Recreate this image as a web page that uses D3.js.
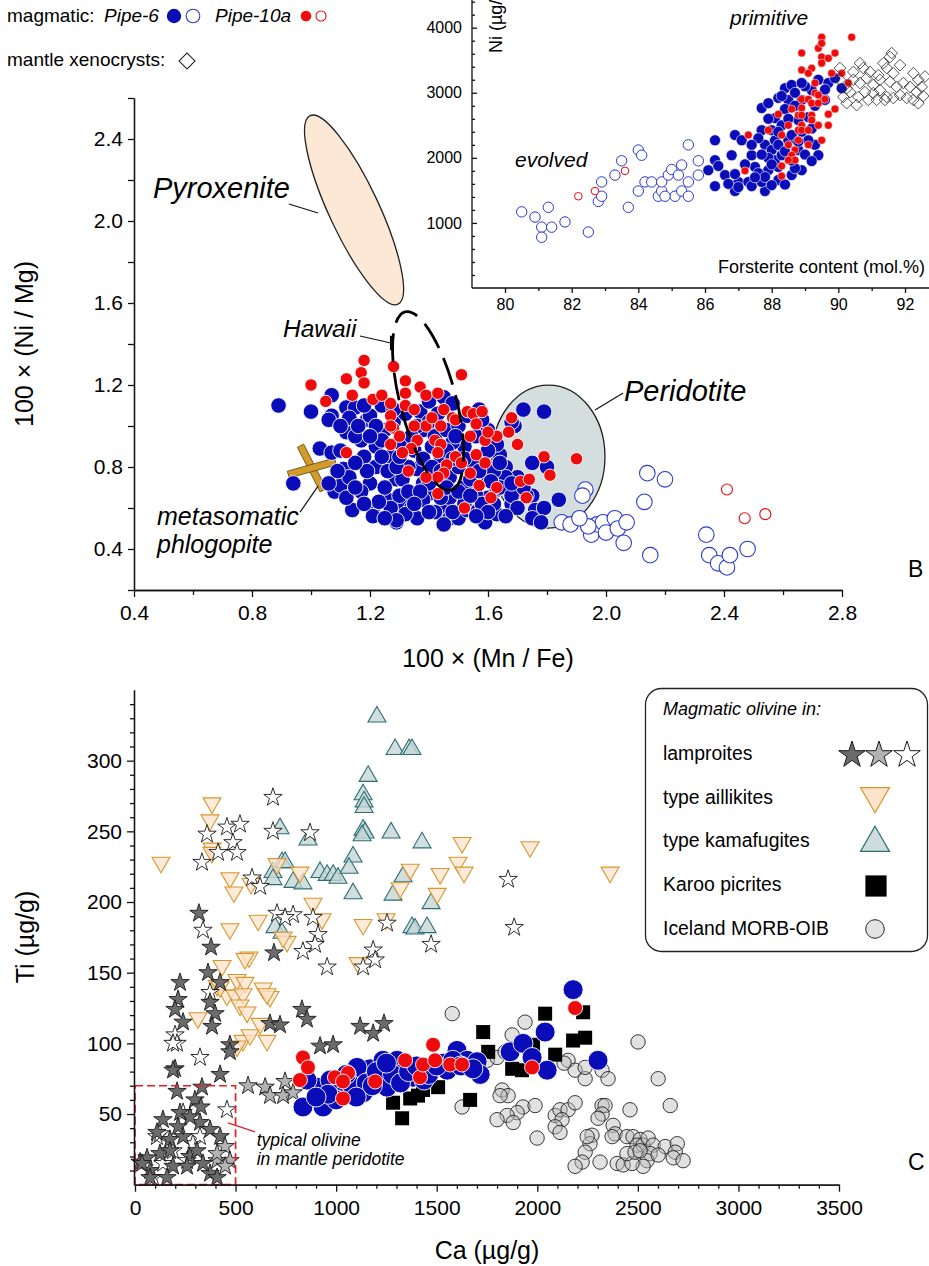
<!DOCTYPE html>
<html>
<head>
<meta charset="utf-8">
<script src="https://cdn.jsdelivr.net/npm/d3@7"></script>
<style>
  body { margin: 0; background: #fff; }
  svg { display: block; font-family: "Liberation Sans", Arial, sans-serif; }
</style>
</head>
<body>
<svg id="fig" width="929" height="1266"></svg>
<script>
// ---------- data: panel B (100*Ni/Mg vs 100*Mn/Fe) ----------
var bPipe6 = [[0.89,1.10],[1.00,1.07],[1.07,1.15],[1.07,1.05],[1.06,1.03],[1.12,1.09],[1.15,1.09],[1.12,0.97],[1.03,0.89],[1.07,0.87],
  [0.94,0.72],[1.11,0.79],[1.08,0.68],[1.10,0.71],[1.14,0.59],[1.21,0.60],[1.29,0.53],[1.17,0.93],[1.19,1.03],[1.22,0.80],
  [1.20,0.72],[1.26,0.64],[1.29,0.74],[1.31,0.62],[1.37,1.07],[1.40,1.12],[1.45,1.14],[1.48,1.11],[1.38,0.98],[1.36,0.79],
  [1.40,0.67],[1.45,0.59],[1.47,0.55],[1.50,0.55],[1.53,0.59],[1.56,0.58],[1.59,0.53],[1.63,0.57],[1.60,0.65],[1.63,0.69],
  [1.66,0.80],[1.64,0.86],[1.62,0.93],[1.60,0.98],[1.58,1.03],[1.57,1.08],[1.69,0.61],[1.70,0.75],[1.72,1.08],[1.79,1.07],
  [1.69,1.00],[1.75,0.82],[1.80,0.80],[1.75,0.66],[1.84,0.64],[1.76,0.59],[1.79,0.60],[1.75,0.55],[1.78,0.53],[1.55,0.72],
  [1.52,0.70],[1.47,0.65],[1.66,0.75],[1.68,1.02],[1.63,0.91],[1.73,0.66],[1.68,0.62],[1.15,0.95],[1.18,0.85],[1.22,0.90],
  [1.25,0.98],[1.27,0.85],[1.30,0.92],[1.33,0.80],[1.35,0.88],[1.38,0.72],[1.42,0.95],[1.44,0.85],[1.47,0.75],[1.50,0.80],
  [1.52,0.90],[1.55,0.82],[1.58,0.75],[1.25,0.70],[1.30,0.66],[1.34,0.60],[1.38,0.64],[1.42,0.58],[1.17,0.68],[1.13,0.75],
  [1.10,0.88],[1.20,1.05],[1.24,1.10],[1.28,1.02],[1.32,1.06],[1.36,1.00],[1.40,1.02],[1.43,1.06],[1.46,0.98],[1.50,1.00],
  [1.53,1.05],[1.56,0.95],[1.60,0.88],[1.62,0.78],[1.64,0.70],[1.68,0.66],[1.72,0.70],[1.70,0.60],[1.66,0.56],[1.62,0.62],
  [1.56,0.66],[1.52,0.62],[1.48,0.58],[1.44,0.65],[1.40,0.72],[1.36,0.55],[1.32,0.57],[1.27,0.60],[1.23,0.63],[1.19,0.78],
  [1.15,0.82],[1.12,0.65],[1.09,0.78],[1.06,0.72],[1.26,0.78],[1.31,0.74],[1.46,0.70],[1.50,0.68],[1.54,0.74],[1.58,0.62],
  [1.60,0.58],[1.21,0.56],[1.38,0.84],[1.34,0.95],[1.29,0.54],[1.45,0.52],[1.56,0.56],[1.28,1.08],[1.22,1.00],[1.18,1.10],
  [1.13,1.04],[1.10,1.00],[1.41,0.90],[1.48,0.92],[1.64,0.82],[1.68,0.72],[1.24,0.93],[1.29,0.80],[1.33,0.68],[1.37,0.68],
  [1.41,0.80],[1.46,0.88],[1.49,0.95],[1.52,0.84],[1.57,0.78],[1.61,0.73],[1.35,0.62],[1.25,0.55],[1.18,0.62],[1.15,0.70],
  [1.24,0.85],[1.40,0.58],[1.54,0.66],[1.20,0.95],[1.16,1.00],[1.30,0.85],[1.44,0.78],[1.48,0.84]];
var bPipe10 = [[1.18,1.32],[1.12,1.23],[1.17,1.26],[1.18,1.21],[1.00,1.20],[1.05,1.12],[1.14,1.15],[1.21,1.13],[1.24,1.15],[1.28,1.29],
  [1.32,1.22],[1.32,1.16],[1.32,1.10],[1.27,1.11],[1.27,1.05],[1.28,0.99],[1.27,1.00],[1.37,1.19],[1.39,1.15],[1.43,1.16],
  [1.51,1.25],[1.45,1.08],[1.48,1.04],[1.44,1.00],[1.39,1.00],[1.35,1.00],[1.36,0.93],[1.34,0.89],[1.31,0.87],[1.27,0.91],
  [1.12,0.87],[1.33,0.78],[1.42,0.93],[1.44,0.91],[1.43,0.87],[1.46,0.81],[1.45,0.77],[1.43,0.75],[1.39,0.75],[1.49,0.85],
  [1.51,0.82],[1.54,0.77],[1.57,0.71],[1.52,0.60],[1.43,0.67],[1.53,1.07],[1.55,1.06],[1.58,1.07],[1.56,1.01],[1.54,0.95],
  [1.59,0.93],[1.63,0.95],[1.60,0.97],[1.56,0.86],[1.59,0.82],[1.63,0.70],[1.61,0.65],[1.68,1.04],[1.67,0.97],[1.70,0.91],
  [1.79,0.85],[1.81,0.76],[1.90,0.84],[1.71,0.73],[1.74,0.74],[1.73,0.65],[1.49,1.03],[1.41,1.04],[1.35,1.08],[1.30,0.95]];
var bPipe6Open = [[2.14,0.77],[2.20,0.74],[2.13,0.63],[1.93,0.69],[1.92,0.66],[1.85,0.53],[1.88,0.52],[1.95,0.47],[1.97,0.52],[1.99,0.53],
  [2.00,0.48],[2.03,0.55],[2.04,0.50],[2.07,0.53],[2.06,0.43],[2.15,0.37],[2.34,0.47],[2.35,0.37],[2.38,0.33],[2.41,0.31],
  [2.42,0.37],[2.48,0.40],[1.94,0.51],[1.91,0.55]];
var bPipe10Open = [[2.41,0.69],[2.47,0.55],[2.54,0.57]];
var bTicksMajorX = [0.4,0.8,1.2,1.6,2.0,2.4,2.8];
var bTicksMinorX = [0.6,1.0,1.4,1.8,2.2,2.6];
var bTicksMajorY = [0.4,0.8,1.2,1.6,2.0,2.4];
var bTicksMinorY = [0.2,0.6,1.0,1.4,1.8,2.2,2.6];

// ---------- data: inset (Ni vs Fo) ----------
var iPipe6Open = [[80.5,1170],[80.9,1090],[81.1,935],[81.1,780],[81.3,1240],[81.4,935],[81.8,1015],[82.5,860],[82.8,1330],[82.9,1630],
  [82.9,1410],[83.3,1735],[83.5,1955],[83.7,1240],[84.0,2120],[84.1,2040],[84.0,1490],[84.2,1630],[84.4,1630],[84.6,1410],
  [84.7,1490],[84.7,1630],[84.9,1735],[85.0,1820],[85.1,1410],[85.2,1735],[85.3,1890],[85.3,1490],[85.5,1630],[85.5,1410],
  [85.5,2200],[85.8,1955],[85.8,1735],[84.8,1410]];
var iPipe10Open = [[82.2,1410],[82.7,1490],[83.6,1800]];
var iPipe6 = [[86.3,2270],[86.9,2350],[86.3,1965],[86.1,1810],[86.4,1875],[86.6,1735],[86.3,1565],[86.8,2040],[87.1,2270],[86.9,1490],
  [87.0,1630],[87.4,2040],[87.3,1630],[87.4,1565],[87.7,2765],[87.7,2425],[87.9,2840],[87.8,2200],[88.0,2120],[88.1,2270],
  [87.8,1490],[87.7,1630],[87.9,1810],[88.2,1860],[88.1,1965],[88.1,2610],[88.2,2920],[88.4,3070],[88.6,3120],[88.5,2890],
  [88.8,2580],[88.9,2890],[89.2,3040],[89.4,3200],[89.7,3150],[90.1,3070],[89.9,3225],[89.6,2890],[89.3,2200],[89.4,2040],
  [88.9,1810],[88.6,1735],[88.3,2040],[88.5,2270],[89.1,2270],[89.1,2625],[88.8,2120],[88.3,2500],[88.0,2425],[88.7,1840],
  [87.5,1860],[87.6,1765],[87.8,1705],[88.2,1660],[88.4,2750],[88.9,2400],[89.2,2450],[88.6,1960],[87.9,2000],[88.4,1590],
  [87.6,2300],[87.9,2600],[88.2,2200],[88.5,2600],[88.7,2800],[89.0,3100],[88.0,1900],[87.7,2050],[87.2,1900],[86.9,1750],
  [88.3,2950],[89.3,2800],[89.0,2050],[88.6,2350],[87.4,2200],[88.9,3150],[89.6,3050],[86.7,1600],[87.0,1550],[88.7,3000],
  [88.2,2400],[88.8,2250],[87.5,1700],[88.0,1580],[89.2,1950],[88.4,2100]];
var iPipe10 = [[89.5,3855],[90.4,3855],[88.9,3610],[89.4,3685],[89.5,3760],[89.5,3550],[89.5,3455],[89.7,3530],[89.9,3610],[88.9,3350],
  [89.2,3375],[89.1,3300],[89.3,3150],[89.8,3300],[90.1,3300],[90.3,3150],[89.3,2995],[88.9,2900],[89.1,2900],[89.4,2965],
  [89.6,2900],[88.9,2765],[89.2,2840],[89.4,2840],[89.9,2750],[88.6,2750],[88.8,2655],[88.9,2655],[89.2,2655],[89.7,2670],
  [88.2,2670],[89.2,2580],[88.9,2500],[89.4,2500],[89.7,2500],[88.8,2425],[88.9,2425],[89.1,2425],[88.5,2500],[87.9,2425],
  [88.3,2350],[88.8,2270],[89.5,2270],[88.5,2200],[89.1,2200],[88.7,2120],[88.6,2040],[88.7,1965],[88.5,1965],[88.3,1875],
  [88.3,1720],[87.2,1800],[87.3,2350]];
var iXeno = [[91.6,3610],[90.65,3455],[90.05,3380],[90.45,3320],[90.75,3380],[90.95,3320],[91.35,3455],[91.45,3380],[91.65,3300],[92.25,3300],
  [92.4,3200],[92.5,3090],[90.05,3200],[90.25,3070],[90.45,3200],[90.65,3150],[90.85,3225],[91.05,3120],[91.25,3200],[91.55,3170],
  [91.75,3090],[91.95,3150],[92.15,3090],[92.35,3010],[90.15,2935],[90.35,3010],[90.6,2935],[90.8,3010],[91.05,2995],[91.25,3040],
  [91.45,2935],[91.65,2920],[91.85,2965],[92.05,2920],[92.25,2890],[92.4,2840],[90.25,2840],[90.55,2810],[90.9,2890],[91.15,2890],
  [91.4,2890],[91.55,3550],[91.85,3425],[91.2,3270],[92.55,2950],[92.6,3250]];
var iTicksMajorX = [80,82,84,86,88,90,92];
var iTicksMinorX = [81,83,85,87,89,91];
var iTicksMajorY = [1000,2000,3000,4000];
var iTicksMinorY = [200,400,600,800,1200,1400,1600,1800,2200,2400,2600,2800,3200,3400,3600,3800,4200,4400];

// ---------- data: panel C (Ti vs Ca) ----------
var cKamafugite = [[1203,331],[1293,308],[1363,308],[1377,308],[1159,289],[1134,276],[1139,271],[1139,267],[1134,251],[1144,249],
  [1129,247],[1273,249],[1427,242],[721,252],[860,244],[731,228],[746,228],[686,221],[686,216],[786,214],[835,213],[920,221],
  [955,219],[985,219],[1009,217],[1084,232],[1064,224],[1084,206],[1333,218],[1283,205],[1472,199],[1377,182],[1392,181],
  [1452,182],[696,182],[731,178]];
var cAillikite = [[129,228],[383,270],[373,258],[383,238],[383,235],[472,217],[492,207],[577,213],[706,227],[820,221],[885,199],
  [930,188],[612,187],[472,181],[1134,184],[1248,188],[1368,223],[1318,210],[1517,220],[1502,206],[1606,228],[1636,221],
  [1626,242],[1964,239],[2362,221],[756,172],[736,175],[567,161],[547,160],[433,155],[1109,157],[507,145],[547,143],[637,139],
  [408,141],[457,134],[497,134],[671,133],[423,140],[537,135],[656,135],[522,127],[557,122],[313,118],[622,114],[656,102],
  [537,102],[572,106],[507,98]];
var cLampDark = [[318,192],[378,168],[691,164],[224,143],[363,150],[423,143],[214,131],[199,124],[239,115],[373,129],[398,121],
  [383,112],[199,82],[423,78],[472,99],[472,94],[830,124],[855,117],[671,114],[721,113],[1119,112],[1184,107],[1238,114],
  [920,98],[985,99],[333,69],[209,66],[139,46],[224,51],[298,60],[323,44],[373,39],[423,34],[174,32],[239,34],[124,22],
  [25,16],[75,10],[189,13],[273,20],[308,24],[373,8],[408,5],[75,5],[159,5],[328,55],[273,48],[214,41],[109,37],[174,24],
  [60,19],[259,13],[338,15],[189,81],[35,15]];
var cLampGrey = [[562,70],[647,69],[671,63],[736,63],[786,65],[746,73],[448,27],[472,17],[408,17],[408,22],[448,13]];
var cLampWhite = [[686,274],[358,248],[457,253],[522,255],[686,250],[870,249],[487,242],[333,228],[413,235],[507,235],[582,217],
  [622,211],[1855,216],[1885,182],[1472,170],[338,180],[706,192],[786,191],[746,189],[885,189],[910,177],[895,170],[835,165],
  [955,154],[1134,154],[1184,166],[1253,185],[1194,159],[373,136],[457,53],[199,106],[209,100],[323,90],[239,51],[109,34],
  [189,24],[288,29],[259,17],[139,15],[323,34],[124,36],[90,5],[189,100]];
var cKaroo = [[1283,58],[1328,47],[1368,61],[1432,67],[1507,69],[1666,60],[1731,108],[1756,94],[1875,82],[2039,121],[2089,92],
  [2178,102],[2228,122],[2238,104],[1979,99],[1924,81],[1407,63]];
var cIceland = [[1939,115],[1875,106],[2501,101],[2153,88],[2188,81],[2238,75],[2238,83],[2322,81],[2352,75],[2601,75],[2661,56],
  [2461,53],[1825,67],[1855,63],[1815,63],[1929,55],[1989,56],[1900,51],[1850,49],[1800,46],[1880,44],[1999,33],[2089,49],
  [2113,53],[2153,53],[2188,58],[2123,46],[2089,41],[2113,37],[2322,56],[2337,56],[2322,50],[2302,47],[2377,42],[2387,36],
  [2372,34],[2272,35],[2262,29],[2238,23],[2223,16],[2188,13],[2312,16],[2397,15],[2427,14],[2446,34],[2476,34],[2511,32],
  [2496,28],[2526,28],[2551,33],[2576,28],[2561,22],[2546,17],[2526,13],[2471,15],[2446,22],[2486,23],[2511,24],[2636,27],
  [2696,29],[2686,23],[2676,19],[2725,17],[2601,21],[2248,34],[1751,88],[1800,90],[1577,121],[1626,55],[1840,94],[2133,86]];
var cPipe6 = [[835,55],[935,55],[905,69],[855,74],[970,74],[1004,65],[1054,68],[1134,65],[1119,76],[1169,82],[1218,76],[1253,69],
  [1268,83],[1303,88],[1333,79],[1382,76],[1233,88],[1452,82],[1532,86],[1601,95],[1651,88],[1701,87],[1716,78],[1552,81],
  [1865,94],[1929,100],[1974,90],[2049,81],[2039,108],[2178,138],[2302,88],[1104,83],[1437,74],[1080,70],[1150,72],[1200,80],
  [1280,78],[1320,72],[1360,80],[1400,84],[1460,78],[1500,84],[1580,88],[1620,84],[1680,82],[1250,86],[1180,70],[1100,62],
  [1000,60],[960,64],[900,62],[1050,78]];
var cPipe10 = [[835,90],[860,83],[820,74],[994,76],[1059,79],[1034,73],[1034,61],[1194,73],[1343,88],[1417,76],[1432,85],
  [1482,99],[1492,88],[1567,85],[1626,85],[2188,125],[1974,83]];
var cTicksMajorX = [0,500,1000,1500,2000,2500,3000,3500];
var cTicksMinorX = d3.range(0, 3501, 100);
var cTicksMajorY = [50,100,150,200,250,300];
var cTicksMinorY = d3.range(0, 351, 10);
var cLegend = ["lamproites", "type aillikites", "type kamafugites", "Karoo picrites", "Iceland MORB-OIB"];

// ---------- colours ----------
var BLUE = "#0a0cb8", RED = "#ee0b0b", BLUE_OPEN = "#2a3ad0";
var FONT = "'Liberation Sans', Arial, sans-serif";

var svg = d3.select("#fig");

// ---------- scales ----------
var xB = d3.scaleLinear().domain([0.4, 2.8]).range([134, 842]);
var yB = d3.scaleLinear().domain([0.2, 2.6]).range([590, 98]);
var xI = d3.scaleLinear().domain([80, 92]).range([505, 905]);
var yI = d3.scaleLinear().domain([0, 4000]).range([288, 27.7]);
var xC = d3.scaleLinear().domain([0, 3500]).range([135, 839]);
var yC = d3.scaleLinear().domain([0, 350]).range([1184.7, 690]);

function drawAxis(orient, scale, major, minor, len, pos, fmt, fs, pad) {
  var mk = orient == "left" ? d3.axisLeft : d3.axisBottom;
  var t = orient == "left" ? "translate(" + pos + ",0)" : "translate(0," + pos + ")";
  var gm = svg.append("g").attr("transform", t)
    .call(mk(scale).tickValues(minor).tickSize(len[1]).tickSizeOuter(0).tickFormat(""));
  var g = svg.append("g").attr("transform", t)
    .call(mk(scale).tickValues(major).tickSize(len[0]).tickSizeOuter(0).tickPadding(pad).tickFormat(fmt));
  [gm, g].forEach(function(a) {
    a.selectAll("line,path").attr("stroke", "#111").attr("stroke-width", 1.3);
  });
  g.selectAll("text").attr("font-size", fs).attr("font-family", FONT).attr("fill", "#000");
  return g;
}

function text(x, y, s, size, opts) {
  opts = opts || {};
  var t = svg.append("text").attr("x", x).attr("y", y).text(s)
    .attr("font-size", size).attr("fill", "#000")
    .attr("font-style", opts.italic ? "italic" : "normal")
    .attr("text-anchor", opts.anchor || "start");
  if (opts.rotate) t.attr("transform", "rotate(-90," + x + "," + y + ")");
  return t;
}

function line(x1, y1, x2, y2, col, w) {
  svg.append("line").attr("x1", x1).attr("y1", y1).attr("x2", x2).attr("y2", y2)
    .attr("stroke", col || "#111").attr("stroke-width", w || 1.2);
}

// ================= PANEL B =================
var bRegions = [
  { cx: 1.146, cy: 2.054, rx: 104, ry: 25, rot: 65, fill: "#fde8d6" },
  { cx: 1.805, cy: 0.851, rx: 56.5, ry: 71.5, rot: 0, fill: "#d5dede" }
];
svg.append("g").selectAll("ellipse").data(bRegions).join("ellipse")
  .attr("transform", d => "translate(" + xB(d.cx) + "," + yB(d.cy) + ") rotate(" + d.rot + ")")
  .attr("rx", d => d.rx).attr("ry", d => d.ry)
  .attr("fill", d => d.fill).attr("stroke", "#222").attr("stroke-width", 1.3);

// phlogopite cross
var phl = { x: 1.003, y: 0.795 };
var gx = svg.append("g").attr("transform", "translate(" + xB(phl.x) + "," + yB(phl.y) + ")");
gx.append("rect").attr("x", -25).attr("y", -3.5).attr("width", 50).attr("height", 7)
  .attr("transform", "rotate(63)").attr("fill", "#d39a2c").attr("stroke", "#6a4a12").attr("stroke-width", 0.8);
gx.append("rect").attr("x", -24.5).attr("y", -3.5).attr("width", 49).attr("height", 7)
  .attr("transform", "rotate(-15.5)").attr("fill", "#d39a2c").attr("stroke", "#6a4a12").attr("stroke-width", 0.8);

svg.append("g").selectAll("circle").data(bPipe6).join("circle")
  .attr("cx", d => xB(d[0])).attr("cy", d => yB(d[1])).attr("r", 7.8)
  .attr("fill", BLUE).attr("stroke", "#fff").attr("stroke-width", 0.9);
svg.append("g").selectAll("circle").data(bPipe10).join("circle")
  .attr("cx", d => xB(d[0])).attr("cy", d => yB(d[1])).attr("r", 6.2)
  .attr("fill", RED).attr("stroke", "#fff").attr("stroke-width", 0.9);
svg.append("g").selectAll("circle").data(bPipe6Open).join("circle")
  .attr("cx", d => xB(d[0])).attr("cy", d => yB(d[1])).attr("r", 7.8)
  .attr("fill", "#fff").attr("stroke", BLUE_OPEN).attr("stroke-width", 1.1);
svg.append("g").selectAll("circle").data(bPipe10Open).join("circle")
  .attr("cx", d => xB(d[0])).attr("cy", d => yB(d[1])).attr("r", 5.5)
  .attr("fill", "#fff").attr("stroke", RED).attr("stroke-width", 1.1);

// Hawaii dashed field
var haw = { cx: 1.397, cy: 1.122, rx: 92, ry: 28, rot: 75.5 };
svg.append("ellipse")
  .attr("transform", "translate(" + xB(haw.cx) + "," + yB(haw.cy) + ") rotate(" + haw.rot + ")")
  .attr("rx", haw.rx).attr("ry", haw.ry).attr("fill", "none")
  .attr("stroke", "#000").attr("stroke-width", 2.8).attr("stroke-dasharray", "28,11")
  .attr("stroke-dashoffset", 8);

// annotations B
text(xB(0.464), yB(2.112), "Pyroxenite", 29, { italic: true });
line(xB(0.925), yB(2.083), xB(1.024), yB(2.039));
text(xB(0.905), yB(1.434), "Hawaii", 24.5, { italic: true });
line(xB(1.166), yB(1.439), xB(1.271), yB(1.405));
line(xB(1.271), yB(1.44), xB(1.271), yB(1.37), "#000", 2);
text(xB(2.061), yB(1.122), "Peridotite", 29, { italic: true });
line(xB(2.058), yB(1.161), xB(1.963), yB(1.078));
text(xB(0.478), yB(0.517), "metasomatic", 25, { italic: true });
text(xB(0.478), yB(0.380), "phlogopite", 25, { italic: true });
line(xB(0.963), yB(0.580), xB(1.024), yB(0.707));
text(908, 577, "B", 23);

drawAxis("left", yB, bTicksMajorY, bTicksMinorY, [6, 6], 134, d3.format(".1f"), 21, 5);
drawAxis("bottom", xB, bTicksMajorX, bTicksMinorX, [7, 5], 590, d3.format(".1f"), 21, 8);
text(33, 344, "100 \u00d7 (Ni / Mg)", 25, { anchor: "middle", rotate: true });
text(488, 667, "100 \u00d7 (Mn / Fe)", 25, { anchor: "middle" });

// ================= INSET =================
svg.append("g").selectAll("circle").data(iPipe6Open).join("circle")
  .attr("cx", d => xI(d[0])).attr("cy", d => yI(d[1])).attr("r", 5.2)
  .attr("fill", "#fff").attr("stroke", BLUE_OPEN).attr("stroke-width", 1);
svg.append("g").selectAll("circle").data(iPipe10Open).join("circle")
  .attr("cx", d => xI(d[0])).attr("cy", d => yI(d[1])).attr("r", 3.8)
  .attr("fill", "#fff").attr("stroke", RED).attr("stroke-width", 1);
svg.append("g").selectAll("circle").data(iPipe6).join("circle")
  .attr("cx", d => xI(d[0])).attr("cy", d => yI(d[1])).attr("r", 5.5)
  .attr("fill", BLUE).attr("stroke", "#fff").attr("stroke-width", 0.6);
svg.append("g").selectAll("circle").data(iPipe10).join("circle")
  .attr("cx", d => xI(d[0])).attr("cy", d => yI(d[1])).attr("r", 4)
  .attr("fill", RED).attr("stroke", "#fff").attr("stroke-width", 0.5);
svg.append("g").selectAll("path").data(iXeno).join("path")
  .attr("d", d3.symbol().type(d3.symbolSquare).size(68))
  .attr("transform", d => "translate(" + xI(d[0]) + "," + yI(d[1]) + ") rotate(45)")
  .attr("fill", "none").attr("stroke", "#333").attr("stroke-width", 0.8);

svg.append("line").attr("x1", 472).attr("x2", 929).attr("y1", 288).attr("y2", 288)
  .attr("stroke", "#111").attr("stroke-width", 1.3);
svg.append("line").attr("x1", 472).attr("x2", 472).attr("y1", 0).attr("y2", 288)
  .attr("stroke", "#111").attr("stroke-width", 1.3);
var iy = drawAxis("left", yI, iTicksMajorY, iTicksMinorY, [-5, -3], 472, d3.format("d"), 16, 10);
var ix = drawAxis("bottom", xI, iTicksMajorX, iTicksMinorX, [5, 3], 288, d3.format("d"), 16, 6);
svg.selectAll("path.domain").filter(function() {
  var p = this.parentNode.getAttribute("transform");
  return p == "translate(472,0)" || p == "translate(0,288)";
}).remove();
text(502, 53, "Ni (\u00b5g/g)", 18, { rotate: true });
text(925, 273, "Forsterite content (mol.%)", 18, { anchor: "end" });
text(730, 25, "primitive", 21, { italic: true });
text(515, 167, "evolved", 21, { italic: true });

// top-left legend
text(7, 22, "magmatic:", 19);
text(104, 22, "Pipe-6", 19, { italic: true });
svg.append("circle").attr("cx", 174).attr("cy", 16).attr("r", 7.2).attr("fill", BLUE);
svg.append("circle").attr("cx", 193).attr("cy", 16).attr("r", 6.8).attr("fill", "#fff").attr("stroke", BLUE_OPEN).attr("stroke-width", 1.1);
text(215, 22, "Pipe-10a", 19, { italic: true });
svg.append("circle").attr("cx", 306).attr("cy", 16).attr("r", 5.3).attr("fill", RED);
svg.append("circle").attr("cx", 321).attr("cy", 16).attr("r", 5).attr("fill", "#fff").attr("stroke", RED).attr("stroke-width", 1.1);
text(7, 66, "mantle xenocrysts:", 19);
svg.append("path").attr("d", d3.symbol().type(d3.symbolSquare).size(128)())
  .attr("transform", "translate(187,61) rotate(45)")
  .attr("fill", "#fff").attr("stroke", "#222").attr("stroke-width", 1.1);

// ================= PANEL C =================
var starSym = d3.symbol().type(d3.symbolStar).size(105);
var triSym = d3.symbol().type(d3.symbolTriangle).size(140);

svg.append("g").selectAll("path").data(cKamafugite).join("path")
  .attr("d", triSym)
  .attr("transform", d => "translate(" + xC(d[0]) + "," + yC(d[1]) + ")")
  .attr("fill", "#c6d6d6").attr("fill-opacity", 0.8).attr("stroke", "#2e6d76").attr("stroke-width", 1.1);
svg.append("g").selectAll("path").data(cAillikite).join("path")
  .attr("d", triSym)
  .attr("transform", d => "translate(" + xC(d[0]) + "," + yC(d[1]) + ") rotate(180)")
  .attr("fill", "#fde3cc").attr("fill-opacity", 0.75).attr("stroke", "#d6972f").attr("stroke-width", 1.1);

[[cLampWhite, "#fff"], [cLampDark, "#6b6b6b"], [cLampGrey, "#b3b3b3"]].forEach(function(s) {
  svg.append("g").selectAll("path").data(s[0]).join("path")
    .attr("d", starSym)
    .attr("transform", d => "translate(" + xC(d[0]) + "," + yC(d[1]) + ")")
    .attr("fill", s[1]).attr("stroke", "#1a1a1a").attr("stroke-width", 0.9);
});

svg.append("g").selectAll("circle").data(cIceland).join("circle")
  .attr("cx", d => xC(d[0])).attr("cy", d => yC(d[1])).attr("r", 7.2)
  .attr("fill", "#bdbdbd").attr("fill-opacity", 0.45).attr("stroke", "#222").attr("stroke-width", 0.9);
svg.append("g").selectAll("path").data(cKaroo).join("path")
  .attr("d", d3.symbol().type(d3.symbolSquare).size(196))
  .attr("transform", d => "translate(" + xC(d[0]) + "," + yC(d[1]) + ")")
  .attr("fill", "#000");
svg.append("g").selectAll("circle").data(cPipe6).join("circle")
  .attr("cx", d => xC(d[0])).attr("cy", d => yC(d[1])).attr("r", 10)
  .attr("fill", BLUE).attr("stroke", "#fff").attr("stroke-width", 0.9);
svg.append("g").selectAll("circle").data(cPipe10).join("circle")
  .attr("cx", d => xC(d[0])).attr("cy", d => yC(d[1])).attr("r", 7.5)
  .attr("fill", RED).attr("stroke", "#fff").attr("stroke-width", 0.9);

// typical mantle olivine box
var mantleBox = { ca: 500, ti: 70 };
svg.append("rect").attr("x", xC(0)).attr("y", yC(mantleBox.ti))
  .attr("width", xC(mantleBox.ca) - xC(0)).attr("height", yC(0) - yC(mantleBox.ti))
  .attr("fill", "none").attr("stroke", "#ec1c24").attr("stroke-width", 1.7).attr("stroke-dasharray", "8,4");
line(xC(462), yC(43.7), xC(597), yC(37.4), "#ec1c24", 1.2);
text(xC(605), yC(27.4), "typical olivine", 17.5, { italic: true });
text(xC(605), yC(13.9), "in mantle peridotite", 17.5, { italic: true });

drawAxis("left", yC, cTicksMajorY, cTicksMinorY.filter(v => v % 50), [7, 4], 134, d3.format("d"), 21, 5);
drawAxis("bottom", xC, cTicksMajorX, cTicksMinorX.filter(v => v % 500), [7, 4], 1184.7, d3.format("d"), 21, 8);
text(34, 937, "Ti (\u00b5g/g)", 25, { anchor: "middle", rotate: true });
text(487, 1259, "Ca (\u00b5g/g)", 25, { anchor: "middle" });
text(908, 1170, "C", 23);

// legend C
svg.append("rect").attr("x", 645.5).attr("y", 688.5).attr("width", 282).attr("height", 263).attr("rx", 16)
  .attr("fill", "#fff").attr("stroke", "#222").attr("stroke-width", 1.3);
text(663, 715, "Magmatic olivine in:", 18, { italic: true });
svg.append("g").selectAll("text").data(cLegend).join("text")
  .attr("x", 663).attr("y", (d, i) => 760 + i * 43.7).text(d => d)
  .attr("font-size", 19.4).attr("fill", "#000");
var bigStar = d3.symbol().type(d3.symbolStar).size(220);
[["#6b6b6b", 852], ["#b3b3b3", 879], ["#fff", 907]].forEach(function(s) {
  svg.append("path").attr("d", bigStar()).attr("transform", "translate(" + s[1] + ",755)")
    .attr("fill", s[0]).attr("stroke", "#1a1a1a").attr("stroke-width", 1);
});
var bigTri = d3.symbol().type(d3.symbolTriangle).size(364);
svg.append("path").attr("d", bigTri()).attr("transform", "translate(875,796) rotate(180)")
  .attr("fill", "#fde3cc").attr("stroke", "#d6972f").attr("stroke-width", 1.2);
svg.append("path").attr("d", bigTri()).attr("transform", "translate(875,843)")
  .attr("fill", "#cfdcdc").attr("stroke", "#2e6d76").attr("stroke-width", 1.2);
svg.append("path").attr("d", d3.symbol().type(d3.symbolSquare).size(450)()).attr("transform", "translate(876,886)")
  .attr("fill", "#000");
svg.append("circle").attr("cx", 875).attr("cy", 929).attr("r", 9.3)
  .attr("fill", "#e3e3e3").attr("stroke", "#222").attr("stroke-width", 1);
</script>
</body>
</html>
